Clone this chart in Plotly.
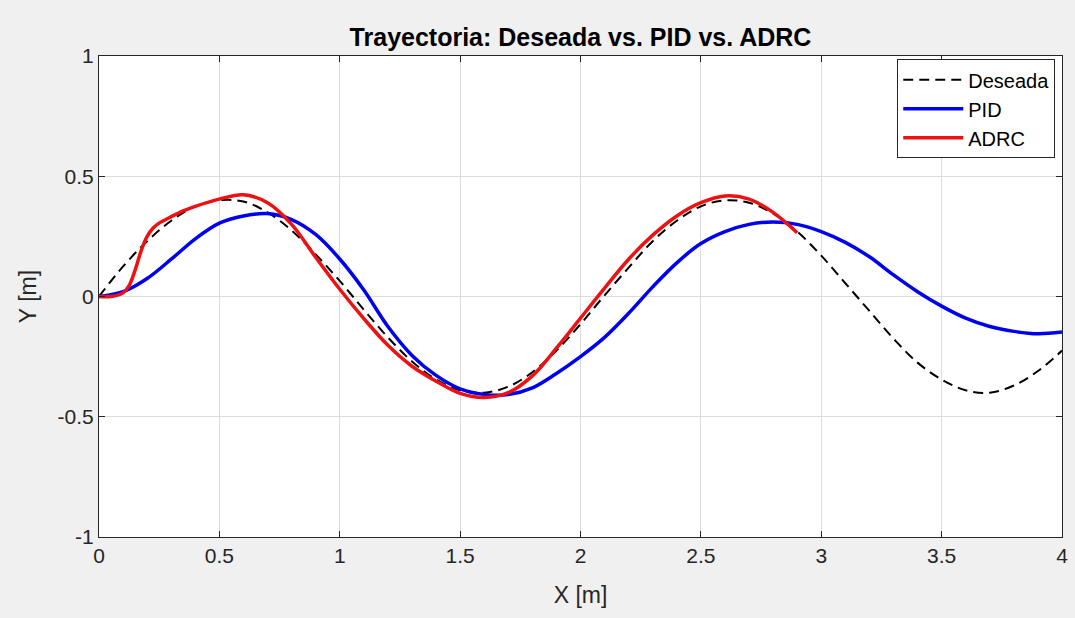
import plotly.graph_objects as go

# ---- data ----
x_des = [0.0, 0.1, 0.2, 0.3, 0.4, 0.5, 0.6, 0.7, 0.8, 0.9, 1.0,
         1.1, 1.2, 1.3, 1.4, 1.5, 1.6, 1.7, 1.8, 1.9, 2.0,
         2.1, 2.2, 2.3, 2.4, 2.5, 2.6, 2.7, 2.8, 2.9, 3.0,
         3.1, 3.2, 3.3, 3.4, 3.5, 3.6, 3.7, 3.8, 3.9, 4.0]
y_des = [0.0, 0.125, 0.23, 0.315, 0.375, 0.40, 0.395, 0.35, 0.275, 0.175, 0.065,
         -0.055, -0.17, -0.27, -0.345, -0.39, -0.40, -0.375, -0.315, -0.225, -0.115,
         0.005, 0.12, 0.23, 0.315, 0.375, 0.40, 0.39, 0.345, 0.27, 0.17,
         0.055, -0.06, -0.175, -0.275, -0.345, -0.39, -0.40, -0.37, -0.31, -0.225]

x_pid = [0.0, 0.1, 0.2, 0.3, 0.4, 0.5, 0.6, 0.7, 0.8, 0.9, 1.0,
         1.1, 1.2, 1.3, 1.4, 1.5, 1.6, 1.7, 1.8, 1.9, 2.0,
         2.1, 2.2, 2.3, 2.4, 2.5, 2.6, 2.7, 2.8, 2.9, 3.0,
         3.1, 3.2, 3.3, 3.4, 3.5, 3.6, 3.7, 3.8, 3.9, 4.0]
y_pid = [0.0, 0.02, 0.075, 0.155, 0.24, 0.305, 0.335, 0.345, 0.32, 0.258, 0.156,
         0.027, -0.125, -0.245, -0.328, -0.384, -0.407, -0.408, -0.38, -0.32, -0.25,
         -0.17, -0.07, 0.04, 0.14, 0.22, 0.27, 0.30, 0.31, 0.30, 0.27,
         0.225, 0.165, 0.09, 0.02, -0.04, -0.09, -0.125, -0.145, -0.155, -0.148]

x_adrc = [0.0, 0.05, 0.1, 0.125, 0.15, 0.175, 0.2, 0.225, 0.25, 0.3, 0.35, 0.4, 0.5,
          0.6, 0.7, 0.8, 0.9, 1.0, 1.1, 1.2, 1.3, 1.4, 1.5, 1.6, 1.7,
          1.8, 1.9, 2.0, 2.1, 2.2, 2.3, 2.4, 2.5, 2.6, 2.7, 2.8, 2.9]
y_adrc = [0.0, 0.0, 0.015, 0.045, 0.11, 0.19, 0.25, 0.285, 0.305, 0.332, 0.356, 0.375, 0.405,
          0.423, 0.39, 0.30, 0.163, 0.03, -0.092, -0.203, -0.29, -0.352, -0.403, -0.42, -0.40,
          -0.33, -0.215, -0.09, 0.035, 0.155, 0.255, 0.335, 0.39, 0.418, 0.405, 0.35, 0.265]

x_tick_vals = [0, 0.5, 1, 1.5, 2, 2.5, 3, 3.5, 4]
x_tick_text = ["0", "0.5", "1", "1.5", "2", "2.5", "3", "3.5", "4"]
y_tick_vals = [-1, -0.5, 0, 0.5, 1]
y_tick_text = ["-1", "-0.5", "0", "0.5", "1"]

FONT = "Liberation Sans, Arial, sans-serif"
AX = "#262626"

fig = go.Figure()
fig.add_trace(go.Scatter(x=x_des, y=y_des, mode="lines", name="Deseada",
                         line=dict(color="black", width=2, dash="10px,6px", shape="spline")))
fig.add_trace(go.Scatter(x=x_pid, y=y_pid, mode="lines", name="PID",
                         line=dict(color="#0000f0", width=3.5, shape="spline")))
fig.add_trace(go.Scatter(x=x_adrc, y=y_adrc, mode="lines", name="ADRC",
                         line=dict(color="#ee1111", width=3.5, shape="spline")))

axis_common = dict(
    showgrid=True, gridcolor="#dcdcdc", gridwidth=1,
    zeroline=False, showline=True, linecolor=AX, linewidth=1,
    mirror="allticks", ticks="inside", ticklen=6, tickcolor=AX,
    tickfont=dict(family=FONT, size=21, color=AX),
)

fig.update_layout(
    width=1075, height=618,
    paper_bgcolor="#f0f0f0", plot_bgcolor="white",
    margin=dict(l=99, r=7, t=56, b=81),
    title=dict(text="<b>Trayectoria: Deseada vs. PID vs. ADRC</b>",
               x=0.5, xref="paper", xanchor="center",
               y=1 - 37 / 618, yref="container", yanchor="middle",
               font=dict(family=FONT, size=25, color="black")),
    xaxis=dict(range=[0, 4], tickvals=x_tick_vals, ticktext=x_tick_text,
               title=dict(text="X [m]", standoff=20,
                          font=dict(family=FONT, size=23, color=AX)),
               **axis_common),
    yaxis=dict(range=[-1, 1], tickvals=y_tick_vals, ticktext=y_tick_text,
               title=dict(text="Y [m]", standoff=14,
                          font=dict(family=FONT, size=23, color=AX)),
               **axis_common),
    legend=dict(x=0.993, y=0.993, xanchor="right", yanchor="top",
                bgcolor="white", bordercolor=AX, borderwidth=1,
                font=dict(family=FONT, size=20, color="black"),
                tracegroupgap=0, itemwidth=60),
    showlegend=True,
)

fig.write_html("out.html")
